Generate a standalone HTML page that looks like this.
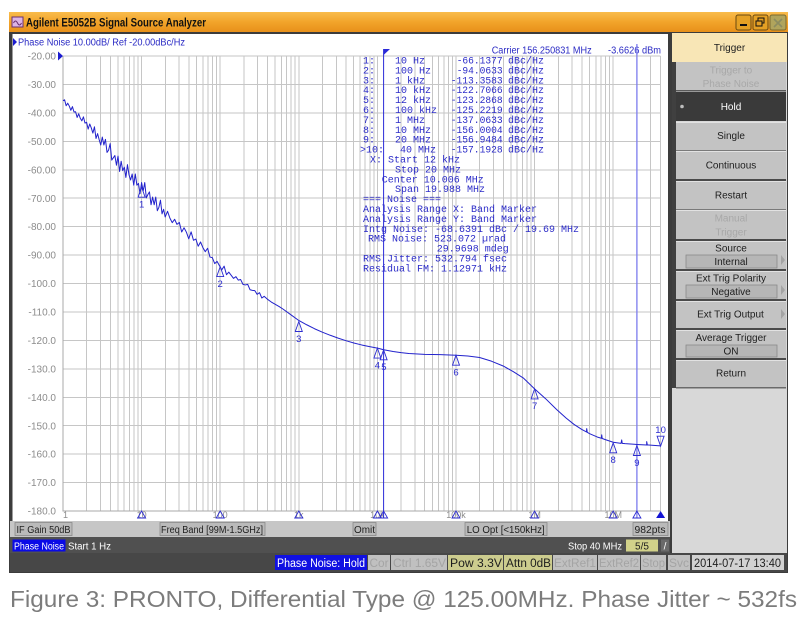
<!DOCTYPE html>
<html><head><meta charset="utf-8">
<style>html,body{margin:0;padding:0;background:#fff;width:806px;height:633px;overflow:hidden}svg{display:block}</style>
</head><body>
<svg width="806" height="633" viewBox="0 0 806 633" xmlns="http://www.w3.org/2000/svg" font-family="Liberation Sans, DejaVu Sans, sans-serif">
<defs>
<linearGradient id="tb" x1="0" y1="0" x2="0" y2="1"><stop offset="0" stop-color="#f9bc4c"/><stop offset="0.5" stop-color="#f2a42a"/><stop offset="1" stop-color="#e8901a"/></linearGradient>
</defs>
<rect x="0" y="0" width="806" height="633" fill="#fff"/>
<!-- window -->
<rect x="9" y="12" width="779" height="561" fill="#3c3c3c"/>
<rect x="9" y="12" width="779" height="20" fill="url(#tb)"/>
<rect x="12" y="17" width="11" height="10" fill="#dcb4e6" stroke="#6a3070" stroke-width="1"/>
<path d="M13.5 23 q2 -4 4 0 t4 0" fill="none" stroke="#6a3070" stroke-width="1"/>
<text x="26" y="26.5" font-size="11.5" font-weight="bold" fill="#111" textLength="180" lengthAdjust="spacingAndGlyphs">Agilent E5052B Signal Source Analyzer</text>
<rect x="736" y="15" width="15" height="15" rx="2" fill="#e4a024" stroke="#6a4a10"/>
<rect x="740" y="24" width="7" height="2" fill="#111"/>
<rect x="753" y="15" width="15" height="15" rx="2" fill="#e4a024" stroke="#6a4a10"/>
<rect x="758" y="18" width="6" height="5" fill="none" stroke="#111"/><rect x="756" y="21" width="6" height="5" fill="#e4a024" stroke="#111"/>
<rect x="770" y="15" width="16" height="15" rx="2" fill="#b0a45c" stroke="#7a6a30"/>
<path d="M774 19 L782 27 M782 19 L774 27" stroke="#8c8c60" stroke-width="1.6"/>

<!-- chart white panel -->
<rect x="12.5" y="34" width="655.5" height="487" fill="#fff"/>
<!-- right panel -->
<rect x="672" y="33" width="115" height="520" fill="#d8d8d8"/>
<rect x="672" y="33" width="115" height="29" fill="#f8e6b6"/>
<text x="729.5" y="51" font-size="10" text-anchor="middle" fill="#202020">Trigger</text>
<rect x="672" y="62" width="4" height="326" fill="#404040"/>
<g>
<rect x="676" y="62" width="110" height="29" fill="#c3c3c3"/><rect x="676" y="90" width="110" height="1.5" fill="#5a5a5a"/>
<rect x="676" y="92" width="110" height="29" fill="#3a3a3a"/>
<rect x="676" y="122" width="110" height="29" fill="#c3c3c3"/><rect x="676" y="122" width="110" height="1" fill="#e2e2e2"/><rect x="676" y="150" width="110" height="1" fill="#7a7a7a"/>
<rect x="676" y="151" width="110" height="29" fill="#c3c3c3"/><rect x="676" y="151" width="110" height="1" fill="#e2e2e2"/><rect x="676" y="179" width="110" height="2" fill="#4a4a4a"/>
<rect x="676" y="181" width="110" height="29" fill="#c3c3c3"/><rect x="676" y="181" width="110" height="1" fill="#e2e2e2"/><rect x="676" y="209" width="110" height="1" fill="#7a7a7a"/>
<rect x="676" y="210" width="110" height="30" fill="#c3c3c3"/><rect x="676" y="210" width="110" height="1" fill="#e2e2e2"/><rect x="676" y="239" width="110" height="2" fill="#4a4a4a"/>
<rect x="676" y="241" width="110" height="29" fill="#c3c3c3"/><rect x="676" y="241" width="110" height="1" fill="#e2e2e2"/><rect x="676" y="269" width="110" height="2" fill="#4a4a4a"/>
<rect x="676" y="271" width="110" height="29" fill="#c3c3c3"/><rect x="676" y="271" width="110" height="1" fill="#e2e2e2"/><rect x="676" y="299" width="110" height="2" fill="#4a4a4a"/>
<rect x="676" y="301" width="110" height="28" fill="#c3c3c3"/><rect x="676" y="301" width="110" height="1" fill="#e2e2e2"/><rect x="676" y="328" width="110" height="2" fill="#4a4a4a"/>
<rect x="676" y="330" width="110" height="29" fill="#c3c3c3"/><rect x="676" y="330" width="110" height="1" fill="#e2e2e2"/><rect x="676" y="358" width="110" height="2" fill="#4a4a4a"/>
<rect x="676" y="360" width="110" height="28" fill="#c3c3c3"/><rect x="676" y="360" width="110" height="1" fill="#e2e2e2"/><rect x="676" y="387" width="110" height="1.5" fill="#6a6a6a"/>
</g>
<g font-size="10" text-anchor="middle" fill="#202020">
<text x="731" y="73.5" fill="#a8a8a8">Trigger to</text>
<text x="731" y="87" fill="#a8a8a8">Phase Noise</text>
<circle cx="682" cy="106.5" r="1.8" fill="#bdbdbd"/>
<text x="731" y="110" fill="#fff">Hold</text>
<text x="731" y="139">Single</text>
<text x="731" y="168.5">Continuous</text>
<text x="731" y="198.5">Restart</text>
<text x="731" y="221.5" fill="#a8a8a8">Manual</text>
<text x="731" y="235.5" fill="#a8a8a8">Trigger</text>
<text x="731" y="251.5">Source</text>
<rect x="686" y="255" width="91" height="13" fill="#b6b6b6" stroke="#8a8a8a" stroke-width="0.8"/>
<text x="731" y="265">Internal</text>
<text x="731" y="281.5">Ext Trig Polarity</text>
<rect x="686" y="285" width="91" height="13" fill="#b6b6b6" stroke="#8a8a8a" stroke-width="0.8"/>
<text x="731" y="295">Negative</text>
<text x="730.5" y="317.5">Ext Trig Output</text>
<text x="731" y="341">Average Trigger</text>
<rect x="686" y="345" width="91" height="12" fill="#b6b6b6" stroke="#8a8a8a" stroke-width="0.8"/>
<text x="731" y="354.5">ON</text>
<text x="731" y="376.5">Return</text>
</g>
<g fill="#a4a4a4">
<polygon points="781,255 781,265 785,260"/>
<polygon points="781,285 781,295 785,290"/>
<polygon points="781,309 781,319 785,314"/>
</g>

<!-- grid -->
<g transform="translate(63,56) scale(0.786,2.844)">
<path shape-rendering="crispEdges" vector-effect="non-scaling-stroke" stroke="#c6c6c6" stroke-width="1" fill="none" d="
M30.10 0V160M47.71 0V160M60.21 0V160M69.90 0V160M77.82 0V160M84.51 0V160M90.31 0V160M95.42 0V160M100 0V160
M130.10 0V160M147.71 0V160M160.21 0V160M169.90 0V160M177.82 0V160M184.51 0V160M190.31 0V160M195.42 0V160M200 0V160
M230.10 0V160M247.71 0V160M260.21 0V160M269.90 0V160M277.82 0V160M284.51 0V160M290.31 0V160M295.42 0V160M300 0V160
M330.10 0V160M347.71 0V160M360.21 0V160M369.90 0V160M377.82 0V160M384.51 0V160M390.31 0V160M395.42 0V160M400 0V160
M430.10 0V160M447.71 0V160M460.21 0V160M469.90 0V160M477.82 0V160M484.51 0V160M490.31 0V160M495.42 0V160M500 0V160
M530.10 0V160M547.71 0V160M560.21 0V160M569.90 0V160M577.82 0V160M584.51 0V160M590.31 0V160M595.42 0V160M600 0V160
M630.10 0V160M647.71 0V160M660.21 0V160M669.90 0V160M677.82 0V160M684.51 0V160M690.31 0V160M695.42 0V160M700 0V160
M730.10 0V160M747.71 0V160M760.21 0V160
M0 0H760.21M0 10H760.21M0 20H760.21M0 30H760.21M0 40H760.21M0 50H760.21M0 60H760.21M0 70H760.21M0 80H760.21
M0 90H760.21M0 100H760.21M0 110H760.21M0 120H760.21M0 130H760.21M0 140H760.21M0 150H760.21"/>
<path shape-rendering="crispEdges" vector-effect="non-scaling-stroke" stroke="#a8a8a8" stroke-width="1" fill="none" d="M0 0V160H760.21"/>
</g>

<!-- y labels -->
<g font-size="10" fill="#8c8c8c" text-anchor="end">
<text x="56" y="59.6">-20.00</text>
<text x="56" y="88">-30.00</text>
<text x="56" y="116.5">-40.00</text>
<text x="56" y="144.9">-50.00</text>
<text x="56" y="173.4">-60.00</text>
<text x="56" y="201.8">-70.00</text>
<text x="56" y="230.2">-80.00</text>
<text x="56" y="258.7">-90.00</text>
<text x="56" y="287.1">-100.0</text>
<text x="56" y="315.5">-110.0</text>
<text x="56" y="344">-120.0</text>
<text x="56" y="372.4">-130.0</text>
<text x="56" y="400.9">-140.0</text>
<text x="56" y="429.3">-150.0</text>
<text x="56" y="457.7">-160.0</text>
<text x="56" y="486.2">-170.0</text>
<text x="56" y="514.6">-180.0</text>
</g>
<polygon points="58,51.5 58,60.5 63,56" fill="#1c1cd0"/>

<!-- x labels -->
<g font-size="9" fill="#8c8c8c" text-anchor="middle">
<text x="63" y="518" text-anchor="start">1</text>
<text x="141.6" y="518">10</text>
<text x="220.2" y="518">100</text>
<text x="298.8" y="518">1k</text>
<text x="377.4" y="518">10k</text>
<text x="456" y="518">100k</text>
<text x="534.6" y="518">1M</text>
<text x="613.2" y="518">10M</text>
</g>

<!-- header -->
<polygon points="13,38 13,46 17,42" fill="#1c1cd0"/>
<text x="18" y="45.5" font-size="10" fill="#2a2ac4" textLength="167" lengthAdjust="spacingAndGlyphs">Phase Noise 10.00dB/ Ref -20.00dBc/Hz</text>
<text x="491.7" y="53.5" font-size="10" fill="#2a2ac4" textLength="100" lengthAdjust="spacingAndGlyphs">Carrier 156.250831 MHz</text>
<text x="608" y="53.5" font-size="10" fill="#2a2ac4" textLength="53" lengthAdjust="spacingAndGlyphs">-3.6626 dBm</text>

<!-- band marker lines -->
<line x1="636.9" y1="44" x2="636.9" y2="518" stroke="#7c7cee" stroke-width="1.3"/>
<line x1="383.6" y1="49" x2="383.6" y2="518" stroke="#2a2ad8" stroke-width="1"/>
<polygon points="383.6,49 390,49 383.6,55" fill="#2a2ad8"/>

<!-- marker table -->
<g font-family="Liberation Mono, DejaVu Sans Mono, monospace" font-size="10" fill="#2c2cc8">
<text x="363" y="63.5">1:</text><text x="395" y="63.5">10 Hz</text><text x="456.7" y="63.5" textLength="46" lengthAdjust="spacingAndGlyphs">-66.1377</text><text x="508" y="63.5">dBc/Hz</text>
<text x="363" y="73.4">2:</text><text x="395" y="73.4">100 Hz</text><text x="456.7" y="73.4" textLength="46" lengthAdjust="spacingAndGlyphs">-94.0633</text><text x="508" y="73.4">dBc/Hz</text>
<text x="363" y="83.3">3:</text><text x="395" y="83.3">1 kHz</text><text x="450.7" y="83.3" textLength="52" lengthAdjust="spacingAndGlyphs">-113.3583</text><text x="508" y="83.3">dBc/Hz</text>
<text x="363" y="93.2">4:</text><text x="395" y="93.2">10 kHz</text><text x="450.7" y="93.2" textLength="52" lengthAdjust="spacingAndGlyphs">-122.7066</text><text x="508" y="93.2">dBc/Hz</text>
<text x="363" y="103.1">5:</text><text x="395" y="103.1">12 kHz</text><text x="450.7" y="103.1" textLength="52" lengthAdjust="spacingAndGlyphs">-123.2868</text><text x="508" y="103.1">dBc/Hz</text>
<text x="363" y="113">6:</text><text x="395" y="113">100 kHz</text><text x="450.7" y="113" textLength="52" lengthAdjust="spacingAndGlyphs">-125.2219</text><text x="508" y="113">dBc/Hz</text>
<text x="363" y="122.9">7:</text><text x="395" y="122.9">1 MHz</text><text x="450.7" y="122.9" textLength="52" lengthAdjust="spacingAndGlyphs">-137.0633</text><text x="508" y="122.9">dBc/Hz</text>
<text x="363" y="132.8">8:</text><text x="395" y="132.8">10 MHz</text><text x="450.7" y="132.8" textLength="52" lengthAdjust="spacingAndGlyphs">-156.0004</text><text x="508" y="132.8">dBc/Hz</text>
<text x="363" y="142.7">9:</text><text x="395" y="142.7">20 MHz</text><text x="450.7" y="142.7" textLength="52" lengthAdjust="spacingAndGlyphs">-156.9484</text><text x="508" y="142.7">dBc/Hz</text>
<text x="360" y="152.6">&gt;10:</text><text x="400" y="152.6">40 MHz</text><text x="450.7" y="152.6" textLength="52" lengthAdjust="spacingAndGlyphs">-157.1928</text><text x="508" y="152.6">dBc/Hz</text>
<text x="370" y="162.5">X:</text><text x="388" y="162.5">Start 12 kHz</text>
<text x="395" y="172.4">Stop 20 MHz</text>
<text x="381.7" y="182.3">Center 10.006 MHz</text>
<text x="395" y="192.2">Span 19.988 MHz</text>
<text x="363" y="202.1">=== Noise ===</text>
<text x="363" y="212">Analysis Range X: Band Marker</text>
<text x="363" y="221.9">Analysis Range Y: Band Marker</text>
<text x="363" y="231.8">Intg Noise: -68.6391 dBc / 19.69 MHz</text>
<text x="368" y="241.7">RMS Noise: 523.072 µrad</text>
<text x="436.7" y="251.6">29.9698 mdeg</text>
<text x="363" y="261.5">RMS Jitter: 532.794 fsec</text>
<text x="363" y="271.4">Residual FM: 1.12971 kHz</text>
</g>

<!-- trace -->
<g transform="translate(63,56) scale(0.786,2.844)">
<polyline vector-effect="non-scaling-stroke" fill="none" stroke="#2222cc" stroke-width="1" stroke-linejoin="round" points="
0,15.7 2,15.4 4,17.5 6,16.6 8,17.6 10,19.1 12,17.8 14,19.7 16,19.6 18,21.6 20,20.3 22,21.9 24,22.8 26,21.4 28,23.6 30,23.3 32,25.7 34,23.9 36,25.3 38,27.1 40,24.9 42,29.0 44,27.3 46,29.4 48,31.3 50,28.5 52,31.3 54,29.3 56,33.9 58,33.1 60,30.8 62,36.6 64,35.8 66,35.0 68,38.4 70,35.2 72,40.6 74,37.0 76,40.3 78,39.1 80,42.7 82,38.2 84,41.8 86,43.6 88,41.5 90,45.4 92,41.5 94,45.4 96,44.8 98,48.4 100,44.5 102,47.5 104,44.5 106,49.9 108,48.7 110,47.8 112,52.3 114,49.6 116,52.3 118,49.6 120,54.4 122,53.2 124,50.7 126,55.5 128,53.9 130,56.6 133,54.6 136,57.0 139,58.6 142,57.4 145,59.2 148,58.5 151,61.9 154,60.4 157,61.95 160,64.3 163,61.85 166,64.8 169,64.35 172,66.9 175,65.4 178,67.4 181,68.8 184,67.6 187,70.7 190,70.9 193,73.0 196,72.2 199,73.7 202,75.2 205,73.9 208,76.9 211,76.0 214,77.1 217,78.2 220,77.6 223,78.8 226,78.6 229,80.3 232,80.5 235,80.3 238,82.2 241,82.4 244,82.5 247,83.8 250,83.2 253,85.1 256,84.5 260,85.5 265,86.5 270,87.3 275,88.1 280,89.0 290,91.0 300,93.0 310,94.5 320,95.9 330,97.1 340,98.2 350,99.2 360,100.1 370,100.9 380,101.6 390,102.2 400,102.7 408,103.3 420,103.9 430,104.3 440,104.6 460,104.9 480,105.0 500,105.2 515,105.5 530,106.0 545,107.3 560,109.0 573,111.0 586,113.3 600,117.06 614,120.5 628,124.3 640,127.3 650,129.5 660,131.3 666,132.2 666.3,131.0 667,132.3 670,132.8 680,134.0 685,134.4 685.4,133.2 686,134.5 690,134.9 700,135.8 710,136.2 710.8,135.0 711.5,136.2 715,136.3 730,136.6 742.6,136.8 742.6,135.6 743.5,136.8 745,136.8 760,137.1"/>
</g>

<!-- trace markers -->
<g fill="none" stroke="#2c2cd0" stroke-width="0.9">
<polygon points="141.6,187.2 138.1,197.2 145.1,197.2"/>
<polygon points="220.2,266.6 216.7,276.6 223.7,276.6"/>
<polygon points="298.8,321.5 295.3,331.5 302.3,331.5"/>
<polygon points="377.4,348.1 373.9,358.1 380.9,358.1"/>
<polygon points="383.6,349.8 380.1,359.8 387.1,359.8"/>
<polygon points="456,355.2 452.5,365.2 459.5,365.2"/>
<polygon points="534.6,388.9 531.1,398.9 538.1,398.9"/>
<polygon points="613.2,442.8 609.7,452.8 616.7,452.8"/>
<polygon points="636.9,445.5 633.4,455.5 640.4,455.5"/>
<polygon points="660.6,446.2 657.1,436.2 664.1,436.2"/>
</g>
<g font-size="9.5" fill="#2c2cd0" text-anchor="middle">
<text x="141.6" y="207.5">1</text>
<text x="220.2" y="286.9">2</text>
<text x="298.8" y="341.8">3</text>
<text x="377.4" y="368.4">4</text>
<text x="383.9" y="370">5</text>
<text x="456" y="375.5">6</text>
<text x="534.6" y="409.2">7</text>
<text x="613.2" y="463.1">8</text>
<text x="636.9" y="465.8">9</text>
<text x="660.6" y="433">10</text>
</g>
<!-- bottom axis markers -->
<g fill="none" stroke="#2c2cd0" stroke-width="0.9">
<polygon points="141.6,511 137.6,518 145.6,518"/>
<polygon points="220.2,511 216.2,518 224.2,518"/>
<polygon points="298.8,511 294.8,518 302.8,518"/>
<polygon points="377.4,511 373.4,518 381.4,518"/>
<polygon points="383.6,511 379.6,518 387.6,518"/>
<polygon points="456,511 452,518 460,518"/>
<polygon points="534.6,511 530.6,518 538.6,518"/>
<polygon points="613.2,511 609.2,518 617.2,518"/>
<polygon points="636.9,511 632.9,518 640.9,518"/>
</g>
<polygon points="660.6,511 656.1,518 665.1,518" fill="#1414d4"/>

<!-- IF gain row -->
<rect x="10" y="521" width="660" height="16" fill="#c6c6c6"/>
<g fill="#bababa" stroke="#8a8a8a" stroke-width="0.8">
<rect x="15" y="522.5" width="57" height="13"/>
<rect x="160" y="522.5" width="105" height="13"/>
<rect x="353" y="522.5" width="23" height="13"/>
<rect x="465" y="522.5" width="82" height="13"/>
<rect x="633" y="522.5" width="35" height="13"/>
</g>
<g font-size="10" fill="#1e1e1e">
<text x="16.5" y="532.8" textLength="54" lengthAdjust="spacingAndGlyphs">IF Gain 50dB</text>
<text x="161" y="532.8" textLength="102" lengthAdjust="spacingAndGlyphs">Freq Band [99M-1.5GHz]</text>
<text x="354" y="532.8" textLength="21" lengthAdjust="spacingAndGlyphs">Omit</text>
<text x="466.7" y="532.8" textLength="78" lengthAdjust="spacingAndGlyphs">LO Opt [&lt;150kHz]</text>
<text x="634.5" y="532.8" textLength="31" lengthAdjust="spacingAndGlyphs">982pts</text>
</g>

<!-- phase noise row -->
<rect x="10" y="537" width="660" height="16" fill="#505050"/>
<rect x="12.5" y="539.5" width="53" height="12" fill="#0a0ae6"/>
<text x="14" y="549.3" font-size="10" fill="#fff" textLength="50" lengthAdjust="spacingAndGlyphs">Phase Noise</text>
<text x="68" y="549.3" font-size="10" fill="#fff" textLength="43" lengthAdjust="spacingAndGlyphs">Start 1 Hz</text>
<text x="568" y="549.3" font-size="10" fill="#fff" textLength="54" lengthAdjust="spacingAndGlyphs">Stop 40 MHz</text>
<rect x="626" y="539.5" width="32" height="12" fill="#d2d28a"/>
<text x="642" y="549.3" font-size="10" fill="#1e1e1e" text-anchor="middle">5/5</text>
<rect x="661" y="539.5" width="8" height="12" fill="#6a6a6a"/>
<text x="665" y="549.3" font-size="10" fill="#fff" text-anchor="middle">/</text>

<!-- status row -->
<rect x="10" y="553" width="777" height="19" fill="#474747"/>
<rect x="275" y="555" width="92" height="15" fill="#1010e2"/>
<g fill="#c0c0c0">
<rect x="368" y="555" width="22" height="15"/>
<rect x="391" y="555" width="56" height="15"/>
<rect x="553" y="555" width="44" height="15"/>
<rect x="598" y="555" width="42" height="15"/>
<rect x="641" y="555" width="25" height="15"/>
<rect x="668" y="555" width="22" height="15"/>
</g>
<rect x="448" y="555" width="55" height="15" fill="#cccc8e"/>
<rect x="504" y="555" width="48" height="15" fill="#cccc8e"/>
<rect x="692" y="555" width="92" height="15" fill="#d2d2d2"/>
<g font-size="11.5">
<text x="277" y="566.8" fill="#fff" textLength="88" lengthAdjust="spacingAndGlyphs">Phase Noise: Hold</text>
<text x="369.5" y="566.8" fill="#a4a4a4" textLength="19" lengthAdjust="spacingAndGlyphs">Cor</text>
<text x="393" y="566.8" fill="#a4a4a4" textLength="53" lengthAdjust="spacingAndGlyphs">Ctrl  1.65V</text>
<text x="450" y="566.8" fill="#1e1e1e" textLength="52" lengthAdjust="spacingAndGlyphs">Pow  3.3V</text>
<text x="506" y="566.8" fill="#1e1e1e" textLength="45" lengthAdjust="spacingAndGlyphs">Attn 0dB</text>
<text x="554" y="566.8" fill="#a4a4a4" textLength="42" lengthAdjust="spacingAndGlyphs">ExtRef1</text>
<text x="599" y="566.8" fill="#a4a4a4" textLength="40" lengthAdjust="spacingAndGlyphs">ExtRef2</text>
<text x="642" y="566.8" fill="#a4a4a4" textLength="23" lengthAdjust="spacingAndGlyphs">Stop</text>
<text x="669" y="566.8" fill="#a4a4a4" textLength="20" lengthAdjust="spacingAndGlyphs">Svc</text>
<text x="694" y="566.8" fill="#1e1e1e" textLength="87" lengthAdjust="spacingAndGlyphs">2014-07-17 13:40</text>
</g>

<!-- caption -->
<text x="10" y="607" font-size="23" fill="#7c7c7c" textLength="787" lengthAdjust="spacingAndGlyphs">Figure 3: PRONTO, Differential Type @ 125.00MHz. Phase Jitter ~ 532fs</text>
</svg>
</body></html>
